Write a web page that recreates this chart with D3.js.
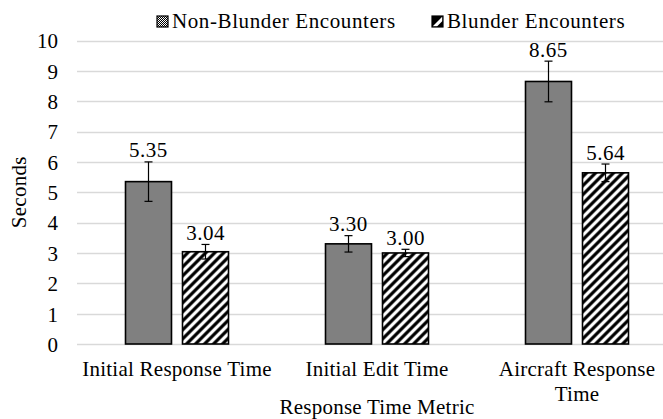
<!DOCTYPE html>
<html>
<head>
<meta charset="utf-8">
<script src="https://cdn.jsdelivr.net/npm/d3@7/dist/d3.min.js"></script>
<style>
  html, body { margin: 0; padding: 0; background: #fff; }
  svg { display: block; }
</style>
</head>
<body>
<svg id="chart" width="663" height="419"></svg>
<script>
const categories = ["Initial Response Time", "Initial Edit Time", "Aircraft Response Time"];
const categoryLabelLines = [["Initial Response Time"], ["Initial Edit Time"], ["Aircraft Response", "Time"]];
const seriesNames = ["Non-Blunder Encounters", "Blunder Encounters"];
const nonBlunderValues = [5.35, 3.30, 8.65];
const blunderValues = [3.04, 3.00, 5.64];
const nonBlunderErrors = [0.65, 0.27, 0.67];
const blunderErrors = [0.24, 0.12, 0.29];
const yTicks = [0, 1, 2, 3, 4, 5, 6, 7, 8, 9, 10];
const yTitle = "Seconds";
const xTitle = "Response Time Metric";

const W = 663, H = 419;
const plot = { left: 77, right: 677, top: 40.5, bottom: 344 };
const fontSize = 21;
const FONT = "'Liberation Serif', 'Times New Roman', serif";

const svg = d3.select("#chart");
const defs = svg.append("defs");

// Dotted grid pattern (non-blunder)
const pDot = defs.append("pattern").attr("id", "patDots")
  .attr("patternUnits", "userSpaceOnUse").attr("width", 2).attr("height", 2);
pDot.append("rect").attr("width", 2).attr("height", 2).attr("fill", "#fff");
pDot.append("rect").attr("x", 0).attr("y", 0).attr("width", 1).attr("height", 1).attr("fill", "#000");
pDot.append("rect").attr("x", 1).attr("y", 1).attr("width", 1).attr("height", 1).attr("fill", "#000");

// Wide upward diagonal pattern (blunder)
const pDiag = defs.append("pattern").attr("id", "patDiag")
  .attr("patternUnits", "userSpaceOnUse").attr("width", 9).attr("height", 9);
pDiag.append("rect").attr("width", 9).attr("height", 9).attr("fill", "#fff");
pDiag.append("path").attr("d", "M-2,2 L2,-2 M0,9 L9,0 M7,11 L11,7")
  .attr("stroke", "#000").attr("stroke-width", 3.2);

// Legend swatch for blunder (half black square with white diagonal)
const pLeg = defs.append("pattern").attr("id", "patLegDiag")
  .attr("patternUnits", "objectBoundingBox").attr("width", 1).attr("height", 1)
  .attr("patternContentUnits", "objectBoundingBox");
pLeg.append("rect").attr("width", 1).attr("height", 1).attr("fill", "#000");
pLeg.append("path").attr("d", "M0.05,0.95 L0.95,0.05 L0.95,0.45 L0.45,0.95 Z").attr("fill", "#fff");

const fills = ["url(#patDots)", "url(#patDiag)"];
const legendFills = ["url(#patDots)", "url(#patLegDiag)"];

const y = d3.scaleLinear().domain([0, 10]).range([plot.bottom, plot.top]);
const x0 = d3.scaleBand().domain(categories).range([plot.left, plot.right])
  .paddingInner(0.485).paddingOuter(0.2425);
const x1 = d3.scaleBand().domain(seriesNames).range([0, x0.bandwidth()]).paddingInner(0.193);

// Gridlines
svg.append("g").selectAll("line").data(yTicks).join("line")
  .attr("x1", plot.left).attr("x2", W)
  .attr("y1", d => Math.round(y(d)) + 0.5).attr("y2", d => Math.round(y(d)) + 0.5)
  .attr("stroke", "#d9d9d9").attr("stroke-width", 1.3);

// Y axis tick labels
const yAxis = d3.axisLeft(y).tickValues(yTicks).tickSize(0).tickPadding(0).tickFormat(d3.format("d"));
const yg = svg.append("g").attr("transform", `translate(${plot.left - 19},0)`).call(yAxis)
  .attr("font-family", FONT).attr("font-size", fontSize);
yg.select(".domain").remove();
yg.selectAll("text").attr("font-size", fontSize).attr("font-family", FONT).attr("fill", "#000").attr("dy", "0.35em");

const data = categories.map((c, i) => ({
  cat: c,
  series: [
    { name: seriesNames[0], value: nonBlunderValues[i], err: nonBlunderErrors[i], idx: 0 },
    { name: seriesNames[1], value: blunderValues[i], err: blunderErrors[i], idx: 1 }
  ]
}));

const groups = svg.append("g").selectAll("g").data(data).join("g")
  .attr("transform", d => `translate(${x0(d.cat)},0)`);

groups.selectAll("rect").data(d => d.series).join("rect")
  .attr("x", d => x1(d.name))
  .attr("y", d => y(d.value))
  .attr("width", x1.bandwidth())
  .attr("height", d => y(0) - y(d.value))
  .attr("fill", d => fills[d.idx])
  .attr("stroke", "#000").attr("stroke-width", 1.6);

// Error bars
const eb = groups.selectAll("g.err").data(d => d.series).join("g").attr("class", "err");
eb.append("line")
  .attr("x1", d => x1(d.name) + x1.bandwidth() / 2).attr("x2", d => x1(d.name) + x1.bandwidth() / 2)
  .attr("y1", d => y(d.value + d.err)).attr("y2", d => y(d.value - d.err))
  .attr("stroke", "#000").attr("stroke-width", 1.2);
["plus", "minus"].forEach(k => {
  eb.append("line")
    .attr("x1", d => x1(d.name) + x1.bandwidth() / 2 - 4).attr("x2", d => x1(d.name) + x1.bandwidth() / 2 + 4)
    .attr("y1", d => y(k === "plus" ? d.value + d.err : d.value - d.err))
    .attr("y2", d => y(k === "plus" ? d.value + d.err : d.value - d.err))
    .attr("stroke", "#000").attr("stroke-width", 1.2);
});

// Data labels
groups.selectAll("text.lbl").data(d => d.series).join("text").attr("class", "lbl")
  .attr("x", d => x1(d.name) + x1.bandwidth() / 2)
  .attr("y", d => y(d.value + d.err) - 4.5)
  .attr("text-anchor", "middle").attr("font-size", fontSize).attr("font-family", FONT)
  .attr("letter-spacing", 0.5)
  .text(d => d.value.toFixed(2));

// Category labels
const catG = svg.append("g").selectAll("text").data(categories).join("text")
  .attr("x", d => x0(d) + x0.bandwidth() / 2)
  .attr("y", 376)
  .attr("text-anchor", "middle").attr("font-size", fontSize).attr("font-family", FONT)
  .attr("letter-spacing", 0.25);
catG.selectAll("tspan").data((d, i) => categoryLabelLines[i]).join("tspan")
  .attr("x", function () { return d3.select(this.parentNode).attr("x"); })
  .attr("dy", (d, j) => j === 0 ? 0 : 25)
  .text(d => d);

// Axis titles
svg.append("text").attr("x", (plot.left + plot.right) / 2).attr("y", 414)
  .attr("text-anchor", "middle").attr("font-size", fontSize).attr("font-family", FONT)
  .attr("letter-spacing", 0.25).text(xTitle);
svg.append("text").attr("transform", `translate(26,${(plot.top + plot.bottom) / 2}) rotate(-90)`)
  .attr("text-anchor", "middle").attr("font-size", fontSize).attr("font-family", FONT)
  .attr("letter-spacing", 0.25).text(yTitle);

// Legend
const legendX = [157, 432];
const lg = svg.append("g").selectAll("g").data(seriesNames).join("g")
  .attr("transform", (d, i) => `translate(${legendX[i]},0)`);
lg.append("rect").attr("x", 0).attr("y", 16).attr("width", 11).attr("height", 11)
  .attr("fill", (d, i) => legendFills[i]).attr("stroke", "#000").attr("stroke-width", 1.2);
lg.append("text").attr("x", 15).attr("y", 28).attr("font-size", fontSize).attr("font-family", FONT)
  .attr("letter-spacing", 0.6).text(d => d);
</script>
</body>
</html>
